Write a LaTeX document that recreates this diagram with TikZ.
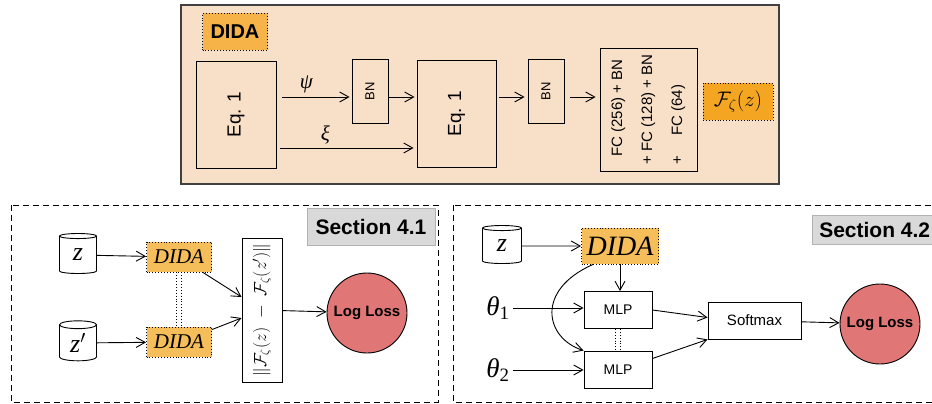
\RequirePackage{fix-cm}
\documentclass[tikz,border=0pt]{standalone}
\usepackage{fontspec}
\setsansfont{Liberation Sans}
\newfontfamily\tmsfamily{Liberation Serif}
\newcommand{\tmit}[1]{{\tmsfamily\itshape #1}}
\usepackage{amsmath,amssymb}
\usepackage{tikz}
\usetikzlibrary{shapes,arrows.meta}
\definecolor{peach}{RGB}{248,224,200}
\definecolor{tagorange}{RGB}{246,180,72}
\definecolor{outorange}{RGB}{244,166,35}
\definecolor{didaorange}{RGB}{246,190,90}
\definecolor{lossred}{RGB}{224,118,118}
\definecolor{secgray}{RGB}{217,217,217}
\tikzstyle{toppanel} = [fill=peach, draw=black!75, line width=1.2pt]
\tikzstyle{secframe} = [draw, line width=0.9pt, dash pattern=on 6pt off 4pt]
\tikzstyle{eqbox} = [rectangle, draw, line width=0.9pt, inner sep=0pt, minimum width=80pt,
minimum height=107pt, font=\sffamily\fontsize{19}{22}\selectfont]
\tikzstyle{bnbox} = [rectangle, draw, line width=0.9pt, inner sep=0pt, minimum width=36pt,
minimum height=64pt, font=\sffamily\fontsize{13}{15}\selectfont]
\tikzstyle{fcbox} = [rectangle, draw, line width=0.9pt, inner sep=0pt, minimum width=97pt,
minimum height=123pt, font=\sffamily\fontsize{15}{18}\selectfont]
\tikzstyle{tagbox} = [rectangle, draw, dotted, line width=0.9pt, fill=tagorange, inner sep=0pt,
minimum width=65pt, minimum height=37pt, font=\sffamily\bfseries\fontsize{20}{24}\selectfont]
\tikzstyle{outbox} = [rectangle, draw, dotted, line width=0.9pt, fill=outorange, inner sep=0pt,
minimum width=70pt, minimum height=37pt, font=\fontsize{21}{25}\selectfont]
\tikzstyle{didabox} = [rectangle, draw, dotted, line width=0.9pt, fill=didaorange, inner sep=0pt,
minimum width=65pt, minimum height=30pt, font=\fontsize{21}{25}\selectfont]
\tikzstyle{db} = [cylinder, shape border rotate=90, draw, line width=0.9pt, fill=white, aspect=0.5,
minimum width=37pt, minimum height=40pt, inner sep=0pt, font=\fontsize{26}{30}\selectfont]
\tikzstyle{normbox} = [rectangle, draw, line width=0.9pt, fill=white, inner sep=0pt, minimum width=40pt,
minimum height=144pt, font=\fontsize{17.5}{20}\selectfont]
\tikzstyle{lossnode} = [circle, draw, line width=0.9pt, fill=lossred, inner sep=0pt, minimum size=80pt,
font=\sffamily\bfseries\fontsize{15}{18}\selectfont]
\tikzstyle{mlpbox} = [rectangle, draw, line width=0.9pt, fill=white, inner sep=0pt, minimum width=68pt,
minimum height=37pt, font=\sffamily\fontsize{14}{17}\selectfont]
\tikzstyle{sectag} = [rectangle, draw=black!30, fill=secgray, inner sep=0pt, minimum width=128pt,
minimum height=37pt, font=\sffamily\bfseries\fontsize{21}{25}\selectfont]
\tikzstyle{line} = [draw, line width=0.9pt, -{Straight Barb[length=9pt,width=10pt]}]

\begin{document}
\begin{tikzpicture}[x=1pt, y=-1pt]
		\clip (0,0) rectangle (932,404);
		% DIDA block
		\draw [toppanel] (181,5) rectangle (779,184);
		\node [tagbox] (didatag) at (235,32) {DIDA};
		\node [eqbox] (eqa) at (236,114.5) {\rotatebox{90}{Eq. 1}};
		\node [bnbox] (bna) at (370,91) {\rotatebox{90}{BN}};
		\node [eqbox, minimum width=79pt] (eqb) at (456.5,113.5) {\rotatebox{90}{Eq. 1}};
		\node [bnbox] (bnb) at (546,91) {\rotatebox{90}{BN}};
		\node [fcbox] (fc) at (648.5,109.5) {\rotatebox{90}{\begin{tabular}{@{}l@{}}
			\hspace{8pt}FC (256) + BN\\[12pt] + FC (128) + BN\\[12pt] +\hspace{20pt}FC (64)\end{tabular}}};
		\node [outbox] (fout) at (738,101.5) {$\mathcal{F}_{\zeta}(z)$};
		\coordinate (upper) at (0,97);
		\coordinate (lower) at (0,148);
		\path [line, shorten <=6pt, shorten >=2pt] (eqa.east |- upper) -- node [above, pos=.4,
			font=\fontsize{21}{25}\selectfont] {\tmit{ψ}} (bna.west |- upper);
		\path [line, shorten <=4pt, shorten >=3pt] (eqa.east |- lower) -- node [above, pos=.35,
			font=\fontsize{21}{25}\selectfont] {\tmit{ξ}} (eqb.west |- lower);
		\path [line, shorten >=2pt] (bna.east |- upper) -- (eqb.west |- upper);
		\path [line, shorten <=3pt, shorten >=3pt] (eqb.east |- upper) -- (bnb.west |- upper);
		\path [line, shorten <=6pt, shorten >=4pt] (bnb.east |- upper) -- (fc.west |- upper);
		% Section 4.1
		\draw [secframe] (11,205) rectangle (438,402);
		\node [sectag] (sec41) at (371,226.5) {Section 4.1};
		\node [db] (cz) at (78,255) {\tmit{z}};
		\node [db, below of=cz, node distance=88pt] (czp) {\tmit{z}$'$};
		\node [didabox] (dida1) at (179,257) {\tmit{DIDA}};
		\node [didabox, below of=dida1, node distance=85pt] (dida2) {\tmit{DIDA}};
		\node [normbox] (norm) at (262,310)
			{\rotatebox{90}{$\|\mathcal{F}_{\zeta}(z)\;-\;\mathcal{F}_{\zeta}(z')\|$}};
		\node [lossnode] (loss1) at (367,313) {Log Loss};
		\draw [dotted, line width=0.9pt] ([xshift=-2.5pt]dida1.south) -- ([xshift=-2.5pt]dida2.north);
		\draw [dotted, line width=0.9pt] ([xshift=2.5pt]dida1.south) -- ([xshift=2.5pt]dida2.north);
		\path [line] (cz) -- (dida1);
		\path [line] (czp) -- (dida2);
		\path [line] ([xshift=-9pt]dida1.south east) -- ([yshift=13pt]norm.west);
		\path [line] ([yshift=-3pt]dida2.north east) -- ([yshift=-8pt]norm.west);
		\path [line] (norm) -- (loss1);
		% Section 4.2
		\draw [secframe] (453,205) rectangle (945,402);
		\node [sectag, anchor=north west, minimum width=125pt, minimum height=29pt] (sec42) at (812,215)
			{Section 4.2};
		\node [db, minimum width=39pt, minimum height=38pt] (cz2) at (502,246) {\tmit{z}};
		\node [didabox, minimum width=77pt, minimum height=36pt, font=\fontsize{28}{32}\selectfont]
			(dida3) at (620,246) {\tmit{DIDA}};
		\node [mlpbox] (mlp1) at (618,310) {MLP};
		\node [mlpbox, below of=mlp1, node distance=59.5pt] (mlp2) {MLP};
		\node [font=\fontsize{27}{31}\selectfont] (th1) at (498,308)
			{\tmit{θ}{\tmsfamily\textsubscript{1}}};
		\node [font=\fontsize{27}{31}\selectfont] (th2) at (498,370)
			{\tmit{θ}{\tmsfamily\textsubscript{2}}};
		\node [mlpbox, minimum width=93pt, font=\sffamily\fontsize{15}{18}\selectfont] (soft)
			at (754.5,320.5) {Softmax};
		\node [lossnode] (loss2) at (880,324) {Log Loss};
		\draw [dotted, line width=0.9pt] ([xshift=-2.5pt]mlp1.south) -- ([xshift=-2.5pt]mlp2.north);
		\draw [dotted, line width=0.9pt] ([xshift=2.5pt]mlp1.south) -- ([xshift=2.5pt]mlp2.north);
		\path [line] (cz2) -- (dida3);
		\path [line] (dida3.south) -- (dida3.south |- mlp1.north);
		\path [line] ([xshift=12pt]dida3.south west) .. controls (535,290) and (545,338) .. (mlp2.north west);
		\path [line] (th1.east) -- (mlp1.west |- th1.east);
		\path [line] (th2.east) -- (mlp2.west |- th2.east);
		\path [line] (mlp1.east) -- ([yshift=3pt]soft.west);
		\path [line] ([yshift=11pt]mlp2.east) -- (soft.south west);
		\path [line] (soft) -- (loss2);
	\end{tikzpicture}
\end{document}
